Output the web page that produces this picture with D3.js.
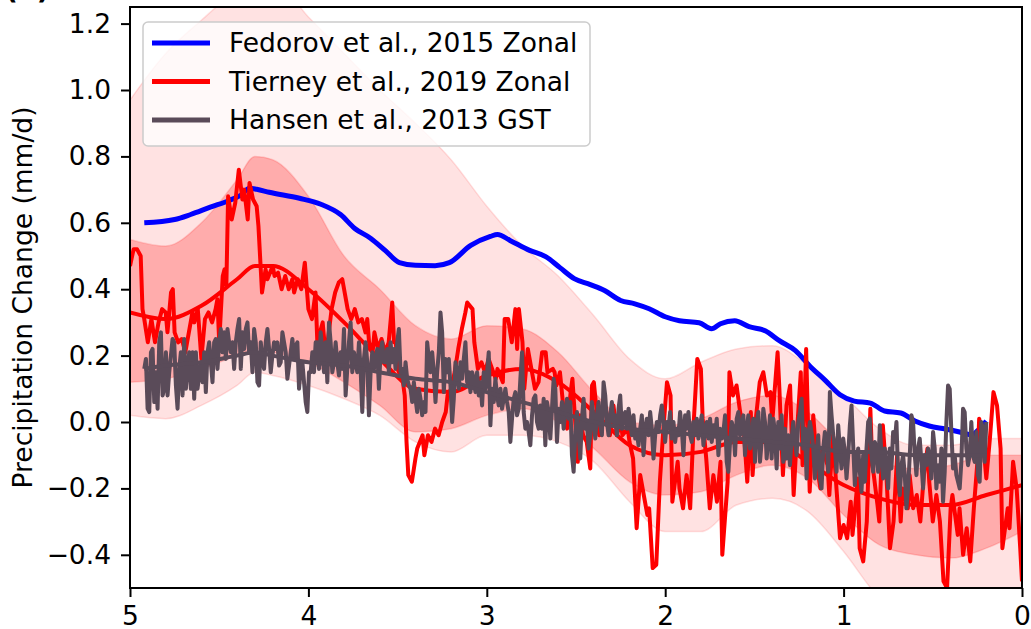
<!DOCTYPE html>
<html>
<head>
<meta charset="utf-8">
<script src="https://cdn.jsdelivr.net/npm/d3@7"></script>
<style>
  html, body { margin: 0; padding: 0; background: #fff; }
  svg text { font-family: "DejaVu Sans", sans-serif; }
</style>
</head>
<body>
<svg id="chart" width="1031" height="629"></svg>
<script>
// tick labels
var xTicks = [5, 4, 3, 2, 1, 0];
var yTicks = [-0.4, -0.2, 0.0, 0.2, 0.4, 0.6, 0.8, 1.0, 1.2];

var legendLabels = ["Fedorov et al., 2015 Zonal", "Tierney et al., 2019 Zonal", "Hansen et al., 2013 GST"];

// Fedorov et al. 2015 zonal (age Ma, mm/d)
var fedorov = [[4.92,0.60],[4.75,0.61],[4.66,0.625],[4.55,0.647],[4.44,0.668],[4.38,0.683],[4.33,0.704],[4.29,0.701],
  [4.22,0.692],[4.05,0.674],[3.93,0.656],[3.82,0.625],[3.74,0.583],[3.65,0.553],[3.57,0.517],[3.49,0.48],[3.40,0.472],
  [3.29,0.471],[3.21,0.48],[3.09,0.532],[2.98,0.559],[2.94,0.565],[2.87,0.547],[2.76,0.517],[2.67,0.498],[2.59,0.465],
  [2.51,0.432],[2.42,0.414],[2.34,0.396],[2.25,0.366],[2.17,0.356],[2.09,0.341],[2.00,0.317],[1.92,0.305],[1.81,0.299],
  [1.74,0.281],[1.69,0.296],[1.61,0.305],[1.53,0.287],[1.44,0.275],[1.36,0.245],[1.27,0.215],[1.19,0.169],[1.10,0.124],
  [1.02,0.082],[0.94,0.063],[0.85,0.057],[0.77,0.033],[0.68,0.027],[0.60,0.003],[0.52,-0.012],[0.43,-0.021],
  [0.35,-0.03],[0.28,-0.039],[0.24,-0.021],[0.20,0.003]];

// Tierney et al. 2019 zonal, raw record
var tierney = [[5.00,0.47],[4.98,0.52],[4.96,0.52],[4.94,0.50],[4.93,0.34],[4.92,0.31],[4.90,0.24],[4.88,0.31],[4.86,0.24],
  [4.84,0.30],[4.82,0.34],[4.80,0.33],[4.79,0.27],[4.77,0.39],[4.76,0.40],[4.75,0.27],[4.73,0.24],[4.71,0.25],[4.69,0.21],
  [4.68,0.24],[4.65,0.33],[4.64,0.30],[4.62,0.34],[4.60,0.19],[4.58,0.31],[4.56,0.33],[4.54,0.30],[4.52,0.34],[4.51,0.37],
  [4.50,0.24],[4.48,0.44],[4.47,0.46],[4.46,0.41],[4.45,0.68],[4.43,0.61],[4.41,0.66],[4.39,0.76],[4.37,0.67],[4.36,0.70],
  [4.34,0.61],[4.33,0.72],[4.31,0.67],[4.29,0.65],[4.28,0.59],[4.27,0.49],[4.26,0.39],[4.24,0.46],[4.23,0.43],[4.20,0.47],
  [4.19,0.44],[4.17,0.45],[4.15,0.40],[4.13,0.44],[4.11,0.40],[4.09,0.43],[4.08,0.39],[4.06,0.43],[4.04,0.40],[4.02,0.48],
  [4.00,0.34],[3.98,0.31],[3.96,0.39],[3.95,0.24],[3.92,0.30],[3.91,0.24],[3.89,0.25],[3.87,0.34],[3.85,0.39],[3.83,0.42],
  [3.81,0.43],[3.79,0.37],[3.78,0.34],[3.76,0.31],[3.74,0.34],[3.72,0.30],[3.70,0.31],[3.68,0.27],[3.67,0.31],[3.66,0.24],
  [3.64,0.21],[3.63,0.27],[3.61,0.22],[3.59,0.25],[3.57,0.21],[3.55,0.24],[3.53,0.36],[3.52,0.24],[3.51,0.24],[3.50,0.16],
  [3.47,0.12],[3.46,0.08],[3.45,-0.06],[3.44,-0.16],[3.42,-0.18],[3.40,-0.11],[3.39,-0.08],[3.36,-0.04],[3.35,-0.10],
  [3.33,-0.04],[3.31,-0.06],[3.29,-0.02],[3.27,-0.04],[3.25,0.00],[3.23,0.03],[3.22,0.08],[3.20,0.10],[3.18,0.15],[3.16,0.22],
  [3.14,0.28],[3.12,0.33],[3.11,0.36],[3.08,0.34],[3.07,0.24],[3.05,0.16],[3.03,0.18],[3.01,0.15],[2.99,0.19],[2.97,0.16],
  [2.95,0.13],[2.94,0.16],[2.91,0.12],[2.90,0.31],[2.88,0.31],[2.86,0.24],[2.84,0.34],[2.83,0.22],[2.82,0.34],[2.80,0.24],
  [2.79,0.10],[2.77,0.22],[2.75,0.16],[2.73,0.10],[2.71,0.12],[2.69,0.21],[2.67,0.21],[2.66,0.15],[2.63,0.16],[2.62,0.15],
  [2.61,0.11],[2.59,0.15],[2.57,0.04],[2.55,-0.02],[2.53,0.09],[2.52,0.13],[2.49,-0.12],[2.48,0.02],[2.46,-0.04],[2.44,-0.06],
  [2.42,-0.14],[2.41,0.11],[2.40,0.12],[2.38,0.01],[2.37,-0.04],[2.35,0.02],[2.33,0.03],[2.31,-0.04],[2.29,0.05],[2.27,-0.04],
  [2.25,0.01],[2.24,-0.04],[2.21,-0.02],[2.20,-0.06],[2.18,-0.11],[2.16,-0.32],[2.14,-0.16],[2.12,-0.22],[2.10,-0.28],
  [2.09,-0.26],[2.07,-0.44],[2.05,-0.43],[2.03,-0.18],[2.01,-0.02],[1.99,0.12],[1.97,0.08],[1.96,-0.24],[1.93,-0.12],
  [1.92,-0.20],[1.90,-0.26],[1.88,-0.16],[1.86,-0.26],[1.84,0.00],[1.82,0.19],[1.80,0.16],[1.79,0.01],[1.77,-0.11],
  [1.75,-0.26],[1.73,-0.16],[1.71,-0.24],[1.69,-0.12],[1.68,-0.40],[1.65,-0.18],[1.64,0.15],[1.62,0.08],[1.60,0.11],
  [1.58,0.03],[1.56,-0.02],[1.54,-0.18],[1.52,0.03],[1.51,-0.16],[1.49,0.02],[1.47,0.12],[1.45,0.15],[1.43,0.08],[1.41,0.09],
  [1.40,0.00],[1.37,0.21],[1.36,0.10],[1.34,-0.16],[1.32,0.05],[1.30,0.11],[1.28,-0.22],[1.26,-0.02],[1.24,0.15],[1.23,-0.13],
  [1.21,0.22],[1.19,-0.21],[1.17,0.02],[1.15,-0.13],[1.13,-0.20],[1.12,-0.08],[1.09,-0.13],[1.08,-0.22],[1.06,-0.04],
  [1.04,-0.20],[1.02,-0.35],[1.00,-0.31],[0.98,-0.35],[0.96,-0.24],[0.95,-0.34],[0.92,-0.17],[0.91,-0.38],[0.89,-0.42],
  [0.87,-0.30],[0.85,0.04],[0.84,-0.12],[0.81,-0.25],[0.80,-0.30],[0.78,-0.01],[0.76,-0.16],[0.74,-0.38],[0.72,-0.30],
  [0.70,-0.10],[0.68,-0.30],[0.67,-0.20],[0.64,-0.26],[0.63,-0.16],[0.61,-0.26],[0.59,-0.22],[0.57,-0.30],[0.55,-0.16],
  [0.53,-0.08],[0.52,-0.18],[0.50,-0.30],[0.48,-0.22],[0.46,-0.30],[0.44,-0.48],[0.42,-0.50],[0.40,-0.26],[0.39,-0.22],
  [0.36,-0.34],[0.35,-0.26],[0.33,-0.40],[0.31,-0.32],[0.29,-0.42],[0.27,-0.26],[0.25,-0.12],[0.24,0.01],[0.22,-0.05],
  [0.20,-0.17],[0.18,-0.05],[0.16,0.09],[0.14,0.05],[0.12,-0.08],[0.11,-0.38],[0.08,-0.26],[0.07,-0.32],[0.05,-0.12],
  [0.03,-0.20],[0.01,-0.38],[0.00,-0.48]];

// Tierney fit and uncertainty envelopes
var bandAge = [5.0,4.8,4.6,4.4,4.3,4.2,4.0,3.8,3.6,3.4,3.2,3.0,2.8,2.6,2.4,2.2,2.0,1.8,1.6,1.4,1.2,1.0,0.8,0.6,0.4,0.2,0.0];
var tierneyFit = [0.33,0.31,0.35,0.43,0.47,0.47,0.40,0.30,0.19,0.10,0.09,0.14,0.16,0.12,0.03,-0.07,-0.10,-0.09,-0.06,-0.06,-0.12,-0.19,-0.23,-0.25,-0.25,-0.22,-0.19];
var innerHi = [0.55,0.53,0.60,0.73,0.80,0.79,0.68,0.50,0.40,0.29,0.25,0.29,0.28,0.21,0.09,0.00,-0.01,0.01,0.06,0.08,0.03,-0.07,-0.12,-0.14,-0.13,-0.10,-0.10];
var innerLo = [0.12,0.13,0.16,0.20,0.22,0.21,0.18,0.12,0.05,-0.03,-0.02,0.02,0.04,0.00,-0.08,-0.18,-0.22,-0.21,-0.16,-0.13,-0.17,-0.28,-0.37,-0.40,-0.41,-0.38,-0.33];
var outerHi = [0.97,1.11,1.21,1.30,1.33,1.33,1.22,1.11,1.00,0.90,0.79,0.65,0.53,0.44,0.32,0.19,0.13,0.18,0.22,0.23,0.17,0.08,-0.02,-0.07,-0.07,-0.05,-0.05];
var outerLo = [0.02,0.01,0.05,0.11,0.15,0.14,0.11,0.07,0.02,-0.06,-0.09,-0.04,-0.04,-0.06,-0.12,-0.24,-0.33,-0.33,-0.25,-0.23,-0.27,-0.39,-0.53,-0.60,-0.62,-0.59,-0.54];

// Hansen et al. 2013 GST, evenly sampled from hansenStart to hansenEnd
var hansenStart = 4.92, hansenEnd = 0.20;
var hansen = [
  .16,.19,.04,.03,.21,.22,.06,.15,.04,.24, .27,.08,.10,.21,.08,.15,.20,.25,.24,.11,
  .04,.16,.21,.08,.25,.10,.16,.21,.10,.21, .07,.21,.10,.14,.18,.12,.21,.09,.21,.24,
  .18,.12,.24,.25,.16,.24,.28,.21,.27,.19, .28,.24,.21,.24,.16,.24,.28,.31,.16,.27,
  .22,.28,.30,.21,.24,.15,.28,.24,.12,.11, .24,.19,.16,.24,.28,.22,.15,.20,.24,.22,
  .24,.17,.18,.27,.24,.21,.13,.17,.21,.25, .19,.23,.24,.10,.16,.18,.12,.06,.03,.15,
  .15,.21,.15,.24,.24,.16,.27,.22,.15,.24, .12,.30,.24,.15,.18,.24,.18,.14,.21,.16,
  .28,.08,.16,.24,.30,.15,.21,.18,.15,.24, .16,.03,.19,.24,.18,.02,.15,.21,.16,.19,
  .22,.10,.21,.24,.18,.18,.22,.15,.24,.18, .22,.16,.24,.28,.15,.16,.11,.18,.13,.11,
  .10,.06,.12,.07,.03,.10,.07,.02,.06,.03, .24,.19,.15,.21,.15,.06,.15,.21,.33,.27,
  .09,.19,.15,.19,.11,.00,.07,.18,.15,.10, .18,.13,.19,.24,.12,.15,.09,.15,.13,.09,
  .15,.08,.12,.05,.15,.10,.15,.21,-.01,.10, .06,.13,.08,.05,.10,.04,.07,.10,.06,.03,
  -.06,.01,.07,.09,.02,.04,.13,.21,.03,-.02, .00,-.03,-.07,.02,.07,.08,.00,-.02,.05,-.02,
  .07,
  -.07,.06,.03,-.05,.04,.13,.10,-.06,.04,.00, .06,-.02,.03,.07,.01,.06,-.10,-.15,-.04,.03,
  -.04,-.11,.01,.07,-.02,.00,-.08,-.04,.06,.01, -.05,.02,.06,-.01,-.04,.12,.08,.00,-.04,.02,
  .06,.00,.02,-.04,.04,.08,-.02,.02,.03,-.02, .04,.00,-.04,.02,-.05,-.03,-.07,-.02,.02,-.10,
  -.02,.01,-.04,.03,-.02,-.11,-.04,.00,-.03,.02, .05,.00,-.06,.00,-.02,.03,-.05,.00,-.06,-.02,
  -.04,.03,-.02,-.10,.02,-.02,.03,-.04,-.06,.00, -.04,.01,-.05,-.01,.02,-.07,-.02,.00,-.05,.01,
  -.06,-.01,-.04,.01,-.10,-.02,-.05,-.03,.02,-.12, -.15,-.06,.00,-.02,-.10,.01,.03,-.04,-.02,.02,
  -.10,-.02,.02,-.08,-.04,.01,-.12,.00,.03,-.12, -.06,
  .04,.00,-.11,-.05,.02,-.11,.01,-.03,-.14,.00, -.08,.02,-.12,-.02,-.11,-.04,-.13,-.05,.00,-.06,
  -.10,.00,.03,.07,-.08,-.02,-.17,-.04,.00,-.03, -.08,-.17,-.09,-.04,-.17,-.20,-.08,-.03,-.06,-.15,
  .09,.02,-.04,-.08,-.15,-.01,-.08,-.14,-.05,-.09, -.17,-.10,-.01,.05,-.07,-.19,-.12,-.08,-.15,-.21,
  -.10,-.18,-.08,.00,.01,-.10,-.15,-.06,-.08,-.15, -.01,-.10,-.17,-.08,-.14,-.20,-.08,-.14,-.03,-.06,
  .00,-.16,-.22,-.13,-.10,-.16,-.26,-.20,-.10,.02, .00,-.10,-.16,-.08,-.05,-.12,-.20,-.10,-.13,-.08,
  -.11,-.17,-.03,-.08,-.20,-.13,-.18,-.08,-.24,-.15, .00,.11,.10,-.03,-.14,-.10,-.16,-.18,-.20,-.12,
  .04,.03,-.08,-.13,-.10,.00,-.10,-.12,-.03,-.16, -.18,.00,-.02,-.12,.00];

var hansenFitAge = [4.92,4.8,4.6,4.4,4.3,4.2,4.0,3.8,3.6,3.4,3.2,3.0,2.8,2.6,2.4,2.2,2.0,1.8,1.6,1.4,1.2,1.0,0.8,0.6,0.4,0.2];
var hansenFit = [0.16,0.17,0.18,0.20,0.21,0.20,0.18,0.17,0.15,0.13,0.12,0.09,0.06,0.03,0.00,-0.02,-0.03,-0.04,-0.05,-0.06,-0.07,-0.09,-0.09,-0.10,-0.10,-0.10];

var BLUE = "#0000ff", RED = "#ff0000", GREY = "#5a4b59";

(function() {
  var svg = d3.select("#chart");
  var pLeft = 130, pRight = 1022, pTop = 7, pBottom = 588;
  var fontPx = "26.5px";

  var x = d3.scaleLinear().domain([5, 0]).range([pLeft, pRight]);
  var y = d3.scaleLinear().domain([-0.5, 1.25]).range([pBottom, pTop]);

  svg.append("clipPath").attr("id", "plotclip")
    .append("rect").attr("x", pLeft).attr("y", pTop).attr("width", pRight - pLeft).attr("height", pBottom - pTop);

  var plot = svg.append("g").attr("clip-path", "url(#plotclip)");

  // envelopes
  function band(lo, hi) {
    return d3.area()
      .x(function(d, i) { return x(bandAge[i]); })
      .y0(function(d, i) { return y(lo[i]); })
      .y1(function(d, i) { return y(hi[i]); })
      .curve(d3.curveMonotoneX)(bandAge);
  }
  plot.append("path").attr("d", band(outerLo, outerHi))
    .attr("fill", RED).attr("fill-opacity", 0.115)
    .attr("stroke", RED).attr("stroke-opacity", 0.12).attr("stroke-width", 1.5);
  plot.append("path").attr("d", band(innerLo, innerHi))
    .attr("fill", RED).attr("fill-opacity", 0.24)
    .attr("stroke", RED).attr("stroke-opacity", 0.15).attr("stroke-width", 1.5);

  plot.append("path").attr("d", d3.line()
      .x(function(d) { return x(d[0]); }).y(function(d) { return y(d[1]); })
      .curve(d3.curveMonotoneX)(fedorov))
    .attr("fill", "none").attr("stroke", BLUE).attr("stroke-width", 5).attr("stroke-linejoin", "round");

  plot.append("path").attr("d", d3.line()
      .x(function(d) { return x(d[0]); }).y(function(d) { return y(d[1]); })(tierney))
    .attr("fill", "none").attr("stroke", RED).attr("stroke-width", 4).attr("stroke-linejoin", "round");

  plot.append("path").attr("d", d3.line()
      .x(function(d, i) { return x(bandAge[i]); })
      .y(function(d) { return y(d); })
      .curve(d3.curveMonotoneX)(tierneyFit))
    .attr("fill", "none").attr("stroke", RED).attr("stroke-width", 4);

  var hStep = (hansenStart - hansenEnd) / (hansen.length - 1);
  plot.append("path").attr("d", d3.line()
      .x(function(d, i) { return x(hansenStart - i * hStep); })
      .y(function(d) { return y(d); })(hansen))
    .attr("fill", "none").attr("stroke", GREY).attr("stroke-width", 4).attr("stroke-linejoin", "round");

  plot.append("path").attr("d", d3.line()
      .x(function(d, i) { return x(hansenFitAge[i]); })
      .y(function(d) { return y(d); })
      .curve(d3.curveMonotoneX)(hansenFit))
    .attr("fill", "none").attr("stroke", GREY).attr("stroke-width", 4);

  // axes
  var fmt = function(d) { return d3.format(".1f")(d).replace("-", "\u2212"); };
  var xAxis = svg.append("g").attr("transform", "translate(0," + pBottom + ")")
    .call(d3.axisBottom(x).tickValues(xTicks).tickFormat(d3.format("d")).tickSize(9).tickPadding(9));
  var yAxis = svg.append("g").attr("transform", "translate(" + pLeft + ",0)")
    .call(d3.axisLeft(y).tickValues(yTicks).tickFormat(fmt).tickSize(9).tickPadding(10));
  [xAxis, yAxis].forEach(function(a) {
    a.select(".domain").remove();
    a.selectAll(".tick line").attr("stroke", "#000").attr("stroke-width", 2);
    a.selectAll(".tick text").attr("fill", "#000").style("font-size", fontPx).style("font-family", "DejaVu Sans");
  });

  svg.append("rect").attr("x", pLeft).attr("y", pTop).attr("width", pRight - pLeft).attr("height", pBottom - pTop)
    .attr("fill", "none").attr("stroke", "#000").attr("stroke-width", 2);

  svg.append("text")
    .attr("transform", "translate(32," + ((pTop + pBottom) / 2) + ") rotate(-90)")
    .attr("text-anchor", "middle")
    .style("font-size", fontPx)
    .text("Precipitation Change (mm/d)");

  // panel letter, mostly cropped off at the top
  svg.append("text").attr("x", 5).attr("y", -1)
    .style("font-size", "28px").style("font-weight", "bold")
    .text("(a)");

  // legend
  var legend = svg.append("g");
  legend.append("rect").attr("x", 143).attr("y", 22).attr("width", 447).attr("height", 124).attr("rx", 5)
    .attr("fill", "#fff").attr("fill-opacity", 0.8).attr("stroke", "#cccccc").attr("stroke-width", 1.5);
  var legendColors = [BLUE, RED, GREY];
  legendLabels.forEach(function(lab, i) {
    var ly = 43 + i * 38.5;
    legend.append("line").attr("x1", 152).attr("x2", 210).attr("y1", ly).attr("y2", ly)
      .attr("stroke", legendColors[i]).attr("stroke-width", 5);
    legend.append("text").attr("x", 229).attr("y", ly).attr("dy", "0.35em")
      .style("font-size", fontPx).text(lab);
  });
})();
</script>
</body>
</html>
